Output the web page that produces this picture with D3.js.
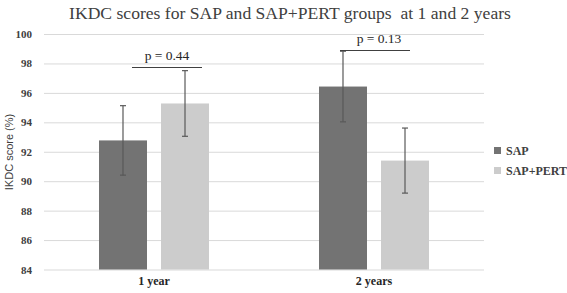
<!DOCTYPE html>
<html>
<head>
<meta charset="utf-8">
<script src="https://cdn.jsdelivr.net/npm/d3@7"></script>
<style>
  body { margin: 0; background: #fff; }
  svg { display: block; font-family: "Liberation Serif", "Times New Roman", "DejaVu Serif", serif; }
  .sans { font-family: "Liberation Sans", Arial, sans-serif; }
</style>
</head>
<body>
<div id="chart"></div>
<script>
// data
var categories = ["1 year", "2 years"];
var groups = ["SAP", "SAP+PERT"];
var meanSAP = [92.77, 96.43];
var meanPERT = [95.28, 91.40];
var errSAP = [2.36, 2.40];
var errPERT = [2.23, 2.21];
var pLabels = ["p = 0.44", "p = 0.13"];
var pBracketY = [97.75, 98.9];
var yTicks = [84, 86, 88, 90, 92, 94, 96, 98, 100];

var width = 567, height = 293;
var margin = {top: 34, right: 83, bottom: 23, left: 44};
var colors = ["#737373", "#cccccc"];
// bracket ends, offset from the bar centres
var bracketStart = [9, -3];
var bracketEnd = [17, 5];

var svg = d3.select("#chart")
  .append("svg")
  .attr("width", width)
  .attr("height", height);

// title
svg.append("text")
  .attr("x", 290)
  .attr("y", 19)
  .attr("text-anchor", "middle")
  .style("font-family", "\"Liberation Serif\", serif")
  .style("font-size", "17.6px")
  .style("fill", "#404040")
  .style("white-space", "pre")
  .text("IKDC scores for SAP and SAP+PERT groups  at 1 and 2 years");

var xScale = d3.scaleBand()
  .domain(categories)
  .range([margin.left, width - margin.right]);

var xInner = d3.scaleBand()
  .domain(groups)
  .range([0, xScale.bandwidth()])
  .paddingInner(0.226)
  .paddingOuter(0.887);

var yScale = d3.scaleLinear()
  .domain([84, 100])
  .range([height - margin.bottom - 0.5, margin.top]);

// grid
var yGrid = d3.axisLeft(yScale)
  .tickValues(yTicks)
  .tickSize(-(width - margin.left - margin.right))
  .tickFormat("");

svg.append("g")
  .attr("class", "grid")
  .attr("transform", `translate(${margin.left},0)`)
  .call(yGrid)
  .call(g => g.select(".domain").remove())
  .selectAll("line")
  .style("stroke", "#d9d9d9")
  .style("stroke-width", 1);

// y axis labels
var yAxis = d3.axisLeft(yScale)
  .tickValues(yTicks)
  .tickSize(0)
  .tickPadding(12)
  .tickFormat(d => d);

svg.append("g")
  .attr("class", "y-axis")
  .attr("transform", `translate(${margin.left},0)`)
  .call(yAxis)
  .call(g => g.select(".domain").remove())
  .selectAll("text")
  .attr("font-family", null)
  .style("font-family", "\"Liberation Serif\", serif")
  .style("font-weight", "bold")
  .style("font-size", "11px")
  .style("fill", "#404040");

// y axis title
svg.append("text")
  .attr("class", "sans")
  .attr("transform", "translate(13,152) rotate(-90)")
  .attr("text-anchor", "middle")
  .style("font-size", "11px")
  .style("fill", "#404040")
  .text("IKDC score (%)");

// x axis labels
var xAxis = d3.axisBottom(xScale)
  .tickSize(0)
  .tickPadding(6);

svg.append("g")
  .attr("class", "x-axis")
  .attr("transform", `translate(0,${height - margin.bottom})`)
  .call(xAxis)
  .call(g => g.select(".domain").remove())
  .selectAll("text")
  .attr("font-family", null)
  .style("font-family", "\"Liberation Serif\", serif")
  .style("font-weight", "bold")
  .style("font-size", "12px")
  .style("fill", "#262626");

// bars
var rows = categories.map((c, i) => ({
  cat: c,
  vals: [
    {g: groups[0], mean: meanSAP[i], err: errSAP[i]},
    {g: groups[1], mean: meanPERT[i], err: errPERT[i]}
  ]
}));

var catG = svg.append("g")
  .attr("class", "bars")
  .selectAll("g")
  .data(rows)
  .enter()
  .append("g")
  .attr("transform", d => `translate(${xScale(d.cat)},0)`);

catG.selectAll("rect")
  .data(d => d.vals)
  .enter()
  .append("rect")
  .attr("x", d => xInner(d.g))
  .attr("y", d => yScale(d.mean))
  .attr("width", xInner.bandwidth())
  .attr("height", d => yScale(84) - yScale(d.mean))
  .attr("fill", (d, i) => colors[i]);

// error bars
var errG = catG.selectAll(".err")
  .data(d => d.vals)
  .enter()
  .append("g")
  .attr("class", "err")
  .attr("transform", d => `translate(${xInner(d.g) + xInner.bandwidth() / 2},0)`)
  .style("stroke", "#595959")
  .style("stroke-width", 1.2);

errG.append("line")
  .attr("x1", 0).attr("x2", 0)
  .attr("y1", d => yScale(d.mean + d.err))
  .attr("y2", d => yScale(d.mean - d.err));

errG.append("line")
  .attr("x1", -3).attr("x2", 3)
  .attr("y1", d => yScale(d.mean + d.err))
  .attr("y2", d => yScale(d.mean + d.err));

errG.append("line")
  .attr("x1", -3).attr("x2", 3)
  .attr("y1", d => yScale(d.mean - d.err))
  .attr("y2", d => yScale(d.mean - d.err));

// p-value brackets
var barMid = (cat, g) => xScale(cat) + xInner(g) + xInner.bandwidth() / 2;

var pG = svg.append("g")
  .attr("class", "pvals")
  .selectAll("g")
  .data(categories)
  .enter()
  .append("g");

pG.append("line")
  .attr("x1", (d, i) => barMid(d, groups[0]) + bracketStart[i])
  .attr("x2", (d, i) => barMid(d, groups[1]) + bracketEnd[i])
  .attr("y1", (d, i) => Math.round(yScale(pBracketY[i])) + 0.5)
  .attr("y2", (d, i) => Math.round(yScale(pBracketY[i])) + 0.5)
  .style("stroke", "#404040")
  .style("stroke-width", 1);

pG.append("text")
  .attr("x", (d, i) => (barMid(d, groups[0]) + bracketStart[i] + barMid(d, groups[1]) + bracketEnd[i]) / 2 + i * 4)
  .attr("y", (d, i) => yScale(pBracketY[i]) - 7)
  .attr("text-anchor", "middle")
  .style("font-family", "\"Liberation Serif\", serif")
  .style("font-size", "13.5px")
  .style("fill", "#262626")
  .text((d, i) => pLabels[i]);

// legend
var legend = svg.append("g")
  .attr("class", "legend")
  .attr("transform", "translate(494,147)")
  .selectAll("g")
  .data(groups)
  .enter()
  .append("g")
  .attr("transform", (d, i) => `translate(0,${i * 20})`);

legend.append("rect")
  .attr("width", 7)
  .attr("height", 7)
  .attr("fill", (d, i) => colors[i]);

legend.append("text")
  .attr("x", 12)
  .attr("y", 7.5)
  .style("font-family", "\"Liberation Serif\", serif")
  .style("font-weight", "bold")
  .style("font-size", "12px")
  .style("fill", "#404040")
  .text(d => d);
</script>
</body>
</html>
